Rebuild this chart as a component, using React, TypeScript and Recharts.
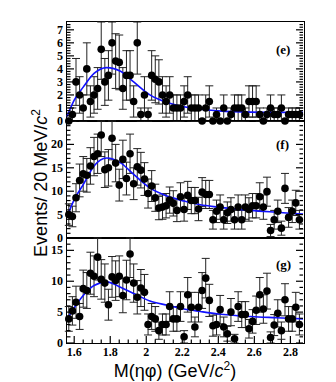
import React from "react";
import { ComposedChart, ErrorBar, Line, Scatter, XAxis, YAxis } from "recharts";

// 20 MeV bin centres, shared by all three panels
const massBins = [
  1.57, 1.59, 1.61, 1.63, 1.65, 1.67, 1.69, 1.71, 1.73, 1.75, 1.77, 1.79, 1.81,
  1.83, 1.85, 1.87, 1.89, 1.91, 1.93, 1.95, 1.97, 1.99, 2.01, 2.03, 2.05, 2.07,
  2.09, 2.11, 2.13, 2.15, 2.17, 2.19, 2.21, 2.23, 2.25, 2.27, 2.29, 2.31, 2.33,
  2.35, 2.37, 2.39, 2.41, 2.43, 2.45, 2.47, 2.49, 2.51, 2.53, 2.55, 2.57, 2.59,
  2.61, 2.63, 2.65, 2.67, 2.69, 2.71, 2.73, 2.75, 2.77, 2.79, 2.81, 2.83, 2.85,
];

const eventsE = [
  0, 0.5, 3, 2, 1, 4, 1.5, 2, 2.5, 5.5, 3, 3.5, 6, 4.6, 4.5, 2.5, 3.5, 3.5, 1.5,
  6, 0.5, 2, 0.5, 3.5, 3.2, 3, 2, 1.5, 2, 1, 1, 1, 1.5, 2, 1, 1, 1, 0, 1, 1.5, 0,
  0.5, 0, 1, 0, 0.5, 1, 1, 1, 0.5, 1.5, 1.5, 1.5, 0.5, 0, 0.5, 1, 0.5, 0.5, 1, 0,
  0.5, 0.5, 0.5, 0.5,
];
const errorsE: (number | number[])[] = [
  0, 0.5, 1.8, 1.4, 1, 2, 1.2, 1.4, 1.6, [2.3, 2.1], 1.8, 1.9, [2.4, 1.6], 2.1,
  2.1, 1.6, 1.9, 1.9, 1.2, [2.4, 1.6], 0.5, 1.4, 0.5, 1.9, 1.8, 1.7, 1.4, 1.2,
  1.4, 1, 1, 1, 1.2, 1.4, 1, 1, 1, 0, 1, 1.2, 0, 0.5, 0, 1, 0, 0.5, 1, 1, 1, 0.5,
  1.2, 1.2, 1.2, 0.5, 0, 0.5, 1, 0.5, 0.5, 1, 0, 0.5, 0.5, 0.5, 0.5,
];

const eventsF = [
  5, 4.6, 8.6, 12.3, 13.7, 13.4, 15.4, 17.4, 18, 22, 14.6, 15, 21.3, 16, 11.3,
  16.8, 12.7, 18, 11.6, 15.2, 14.5, 12.6, 9.5, 11.1, 8.6, 6.4, 6.6, 6.9, 8.1, 7.4,
  5.9, 8.8, 6.1, 9.1, 8, 8, 6.2, 9.8, 9.3, 9.3, 3.9, 5.7, 6.6, 3.9, 5.4, 6.1, 3.9,
  6.6, 3.9, 6.6, 6.1, 6.9, 6.9, 8.8, 6.6, 9.9, 1.6, 3.9, 5.7, 2.1, 10.6, 4.4, 5.7,
  7.5, 3.9,
];
const errorsF: (number | number[])[] = [
  2.3, 2.2, 3, 3.5, 3.7, 3.6, 3.9, 4.1, 4.2, [4.6, 3], 3.8, 3.9, [4.6, 3.7], 4,
  3.4, 4.1, 3.5, 4.2, 3.4, 3.9, 3.8, 3.5, 3.1, 3.3, 2.9, 2.5, 2.6, 2.6, 2.8, 2.7,
  2.4, 3, 2.5, 3, 2.8, 2.8, 2.5, 3.1, 3, 3, 2, 2.4, 2.6, 2, 2.3, 2.5, 2, 2.6, 2,
  2.6, 2.5, 2.6, 2.6, 3, 2.6, 3.1, 1.3, 2, 2.4, 1.5, 3.2, 2.1, 2.4, 2.7, 2,
];

const eventsG = [
  3.9, 5.2, 6.6, 4.3, 8.8, 8.5, 11.3, 10.8, 13.9, 10.3, 9.7, 6.2, 10.7, 10.1,
  10.8, 7.7, 10.2, 14.4, 9.7, 7.4, 8.9, 8.2, 3, 4.3, 3.9, 2, 3, 3, 5.9, 3.9, 3.9,
  5.9, 1, 7.8, 5.8, 2.6, 5.8, 8.5, 10.5, 6.9, 2.8, 3, 5.4, 2.6, 1.5, 5, 0.7, 5.9,
  4.6, 4.6, 2.3, 3.5, 5.3, 7.8, 5.5, 8.4, 0.9, 2.9, 4.8, 2, 7, 3.9, 3.9, 5.8, 3,
];
const errorsG: (number | number[])[] = [
  2, 2.3, 2.6, 2.1, 3, 2.9, 3.4, 3.3, [3.7, 3.1], 3.2, 3.1, 2.5, 3.3, 3.2, 3.3,
  2.8, 3.2, [3.8, 2.6], 3.1, 2.7, 3, 2.9, 1.7, 2.1, 2, 1.4, 1.7, 1.7, 2.4, 2, 2,
  2.4, 1, 2.8, 2.4, 1.6, 2.4, 2.9, 3.2, 2.6, 1.7, 1.7, 2.3, 1.6, 1.2, 2.2, 0.7,
  2.4, 2.1, 2.1, 1.5, 1.9, 2.3, 2.8, 2.3, 2.9, 0.9, 1.7, 2.2, 1.4, 2.6, 2, 2, 2.4,
  1.7,
];

const fitMass = [
  1.56, 1.6, 1.65, 1.71, 1.78, 1.86, 1.93, 2.02, 2.12, 2.21, 2.3, 2.4, 2.58, 2.72,
  2.87,
];
const fitE = [
  0.35, 1.6, 2.6, 3.65, 4.1, 3.8, 3.0, 2.0, 1.4, 1.1, 0.9, 0.78, 0.68, 0.66, 0.66,
];
const fitF = [
  4.5, 8.2, 11.4, 15.4, 17.1, 16.0, 13.6, 10.7, 8.9, 7.9, 7.1, 6.6, 5.9, 5.5, 5.1,
];
const fitG = [
  3.8, 5.7, 7.7, 9.3, 9.9, 9.0, 8.0, 6.8, 6.1, 5.5, 5.1, 4.7, 4.3, 4.1, 3.9,
];

const xDomain: [number, number] = [1.56, 2.87];
const xMajor = [1.6, 1.8, 2, 2.2, 2.4, 2.6, 2.8];

const tickFont = "'Liberation Serif', 'DejaVu Serif', serif";
const titleFont = "'Liberation Sans', Arial, sans-serif";

const PLOT_LEFT = 67;
const PLOT_RIGHT = 304;

function steps(start: number, stop: number, step: number) {
  const out: number[] = [];
  for (let v = start; v <= stop + 1e-9; v += step) out.push(+v.toFixed(4));
  return out;
}

type Side = "left" | "right" | "top" | "bottom";

// ROOT-style ticks: drawn inward from the frame, long for majors, short for minors
function makeTick(side: Side, majors: number[], showLabel: boolean) {
  return (props: any) => {
    const { x, y, payload } = props;
    const v = payload.value as number;
    const major = majors.some(m => Math.abs(m - v) < 1e-6);
    const len = major ? 7 : 3.5;
    let x2 = x;
    let y2 = y;
    if (side === "left") x2 = x + len;
    else if (side === "right") x2 = x - len;
    else if (side === "top") y2 = y + len;
    else y2 = y - len;
    return (
      <g>
        <path d={`M${x},${y}L${x2},${y2}`} stroke="#000" strokeWidth={1.2} fill="none" />
        {showLabel && major && (
          <text
            x={side === "left" ? x - 4 : x}
            y={side === "left" ? y + 4 : y + 13}
            textAnchor={side === "left" ? "end" : "middle"}
            fill="#000"
            fontFamily={tickFont}
            fontWeight="bold"
            fontSize={12}
          >
            {String(v)}
          </text>
        )}
      </g>
    );
  };
}

const Dot = (p: any) => <circle cx={p.cx} cy={p.cy} r={3.8} fill="#000" />;

type PanelProps = {
  events: number[];
  errors: (number | number[])[];
  fit: number[];
  domain: [number, number];
  yMajor: number[];
  yMinor: number[];
  plotTop: number;
  plotBottom: number;
  tag: string;
  tagY: number;
  showX?: boolean;
};

function Panel({
  events,
  errors,
  fit,
  domain,
  yMajor,
  yMinor,
  plotTop,
  plotBottom,
  tag,
  tagY,
  showX = false,
}: PanelProps) {
  const points = massBins.map((m, i) => ({ x: m, y: events[i], err: errors[i] }));
  const curve = fitMass.map((m, i) => ({ x: m, y: fit[i] }));
  const xMinor = steps(1.6, 2.85, 0.05);
  const padTop = 6;
  const padBottom = showX ? 24 : 6;
  const height = plotBottom - plotTop + padTop + padBottom;

  return (
    <>
      <div
        style={{
          position: "absolute",
          left: PLOT_LEFT - 1,
          top: plotTop - 1,
          width: PLOT_RIGHT - PLOT_LEFT,
          height: plotBottom - plotTop,
          border: "1.5px solid #000",
        }}
      />
      <div style={{ position: "absolute", left: 0, top: plotTop - padTop }}>
        <ComposedChart
          width={336}
          height={height}
          margin={{ top: padTop, right: 32, bottom: showX ? 0 : padBottom, left: 0 }}
        >
          <XAxis
            dataKey="x"
            type="number"
            domain={xDomain}
            ticks={xMinor}
            interval={0}
            height={showX ? padBottom : 0}
            tickSize={0}
            tickMargin={0}
            axisLine={false}
            tick={makeTick("bottom", xMajor, showX)}
          />
          <XAxis
            xAxisId="top"
            orientation="top"
            type="number"
            domain={xDomain}
            allowDataOverflow
            ticks={xMinor}
            interval={0}
            height={0}
            tickSize={0}
            tickMargin={0}
            axisLine={false}
            tick={makeTick("top", xMajor, false)}
          />
          <YAxis
            type="number"
            domain={domain}
            ticks={yMinor}
            interval={0}
            width={PLOT_LEFT}
            tickSize={0}
            tickMargin={0}
            axisLine={false}
            tick={makeTick("left", yMajor, true)}
          />
          <YAxis
            yAxisId="right"
            orientation="right"
            type="number"
            domain={domain}
            allowDataOverflow
            ticks={yMinor}
            interval={0}
            width={1}
            tickSize={0}
            tickMargin={0}
            axisLine={false}
            tick={makeTick("right", yMajor, false)}
          />
          <Scatter data={points} dataKey="y" shape={Dot} isAnimationActive={false}>
            <ErrorBar dataKey="err" direction="y" width={4} stroke="#222" strokeWidth={1} />
          </Scatter>
          <Line
            data={curve}
            dataKey="y"
            type="monotone"
            stroke="#1010ff"
            strokeWidth={1.6}
            dot={false}
            activeDot={false}
            isAnimationActive={false}
          />
        </ComposedChart>
      </div>
      <div
        style={{
          position: "absolute",
          left: 276,
          top: tagY - 8,
          fontFamily: tickFont,
          fontWeight: "bold",
          fontSize: 13,
        }}
      >
        {tag}
      </div>
    </>
  );
}

export default function App() {
  return (
    <div
      style={{
        position: "absolute",
        left: 0,
        top: 0,
        width: 336,
        height: 382,
        background: "#fff",
      }}
    >
      <Panel
        events={eventsE}
        errors={errorsE}
        fit={fitE}
        domain={[0, 7.6]}
        yMajor={[0, 1, 2, 3, 4, 5, 6, 7]}
        yMinor={steps(0, 7.4, 0.2)}
        plotTop={22}
        plotBottom={121}
        tag="(e)"
        tagY={50}
      />
      <Panel
        events={eventsF}
        errors={errorsF}
        fit={fitF}
        domain={[0, 25]}
        yMajor={[0, 5, 10, 15, 20]}
        yMinor={steps(0, 24, 1)}
        plotTop={121}
        plotBottom={238}
        tag="(f)"
        tagY={145}
      />
      <Panel
        events={eventsG}
        errors={errorsG}
        fit={fitG}
        domain={[0, 17]}
        yMajor={[0, 5, 10, 15]}
        yMinor={steps(0, 16, 1)}
        plotTop={238}
        plotBottom={343}
        tag="(g)"
        tagY={265}
        showX
      />
      <div
        style={{
          position: "absolute",
          left: 40,
          top: 183,
          transform: "translate(-50%, -50%) rotate(-90deg)",
          whiteSpace: "nowrap",
          fontFamily: titleFont,
          fontSize: 18,
        }}
      >
        Events/ 20 MeV/<i>c</i>
        <sup style={{ fontSize: 12 }}>2</sup>
      </div>
      <div
        style={{
          position: "absolute",
          left: 175,
          top: 370,
          transform: "translate(-50%, -50%)",
          whiteSpace: "nowrap",
          fontFamily: titleFont,
          fontSize: 18,
        }}
      >
        M(ηφ) (GeV/<i>c</i>
        <sup style={{ fontSize: 12 }}>2</sup>)
      </div>
    </div>
  );
}
